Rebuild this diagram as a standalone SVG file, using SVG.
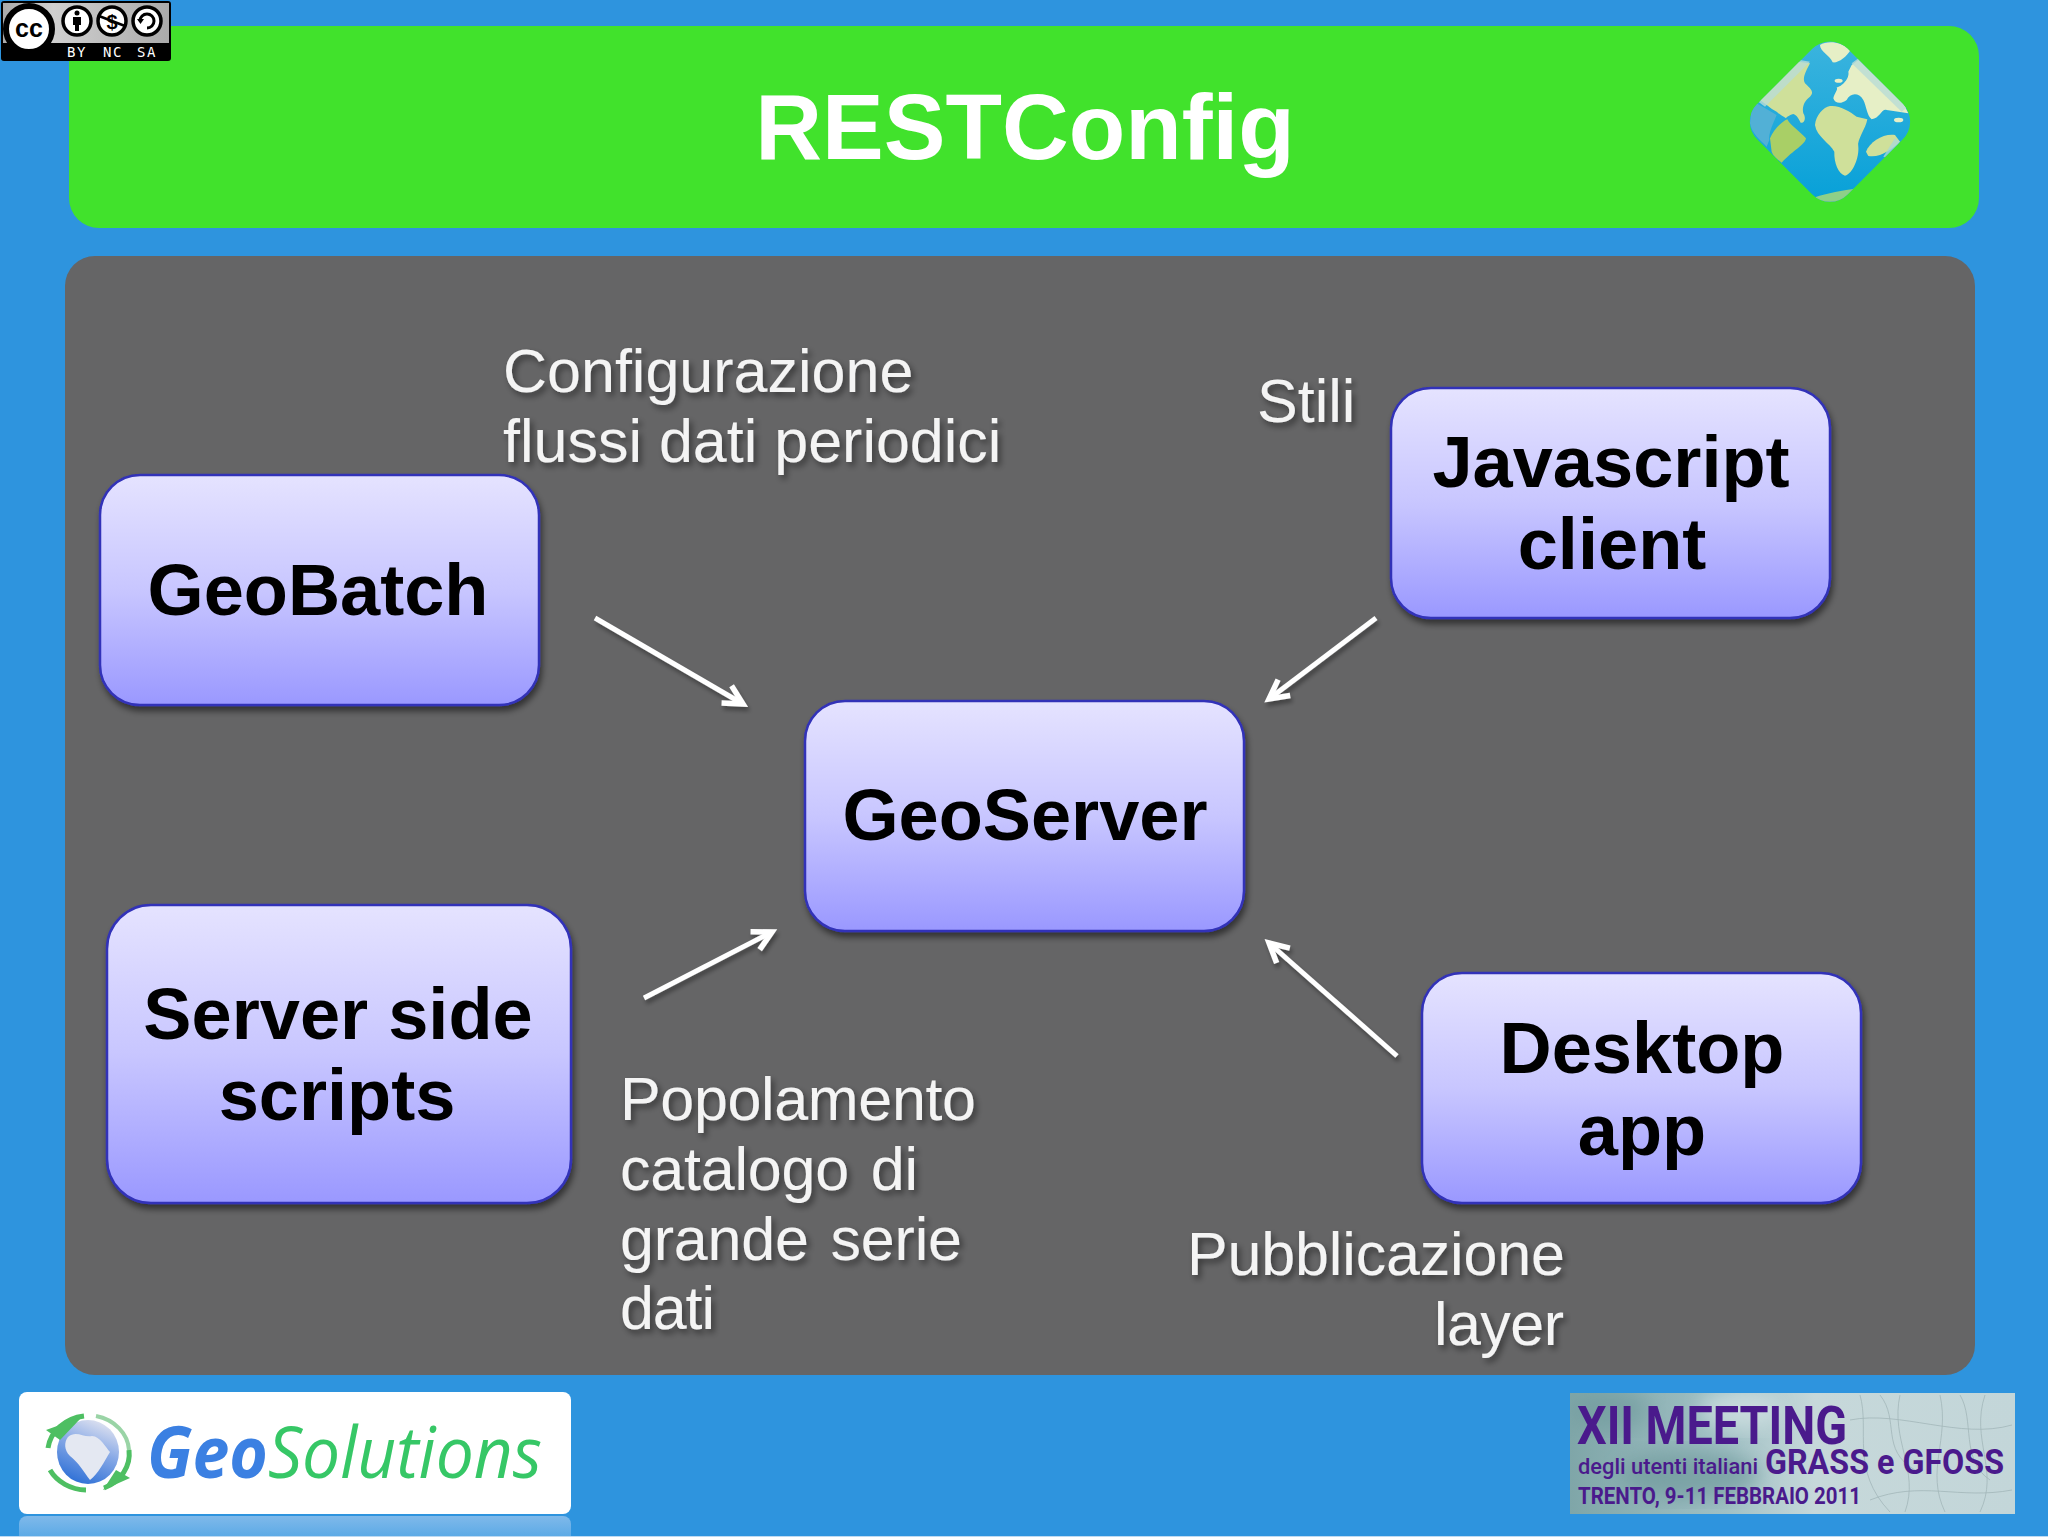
<svg xmlns="http://www.w3.org/2000/svg" width="2048" height="1537" viewBox="0 0 2048 1537">
<style>
.node{stroke:#3030b8;stroke-width:2.5;fill:url(#nodeFill);filter:url(#boxShadow)}
.nt{font:bold 72.200px "Liberation Sans",Arial,sans-serif;fill:#000;text-anchor:middle}
.lb{font:61px "Liberation Sans",Arial,sans-serif;fill:#f4f4f4;filter:url(#textShadow)}
.arrow{fill:none;stroke:#fff;stroke-width:5;marker-end:url(#head);filter:url(#arrowShadow)}
.land{fill:#cfe09a}
.pale{fill:#e6efc6}
.cct{font:14px "DejaVu Sans Mono",monospace;fill:#fff;text-anchor:middle;letter-spacing:1.500px}
.ccg{font:bold 25px "Liberation Sans",Arial,sans-serif;fill:#000;text-anchor:middle}
.ccr{fill:#fff;stroke:#000;stroke-width:3.5}
.mt{font-family:"Roboto","Liberation Sans",sans-serif;font-weight:700;fill:#4a1a8c}
</style>
<defs>
<linearGradient id="nodeFill" x1="0" y1="0" x2="0" y2="1"><stop offset="0" stop-color="#e5e3ff"/><stop offset="0.5" stop-color="#c8c6ff"/><stop offset="1" stop-color="#9a98ff"/></linearGradient>
<linearGradient id="ccBg" x1="0" y1="0" x2="1" y2="0"><stop offset="0" stop-color="#aaa"/><stop offset="0.3" stop-color="#d0d0d0"/><stop offset="1" stop-color="#aaa"/></linearGradient>
<linearGradient id="reflect" x1="0" y1="0" x2="0" y2="1"><stop offset="0" stop-color="#7fb9ea"/><stop offset="1" stop-color="#4ca3e4"/></linearGradient>
<linearGradient id="meetBg" x1="0" y1="0" x2="1" y2="0"><stop offset="0" stop-color="#7fa6a8"/><stop offset="0.35" stop-color="#a0c0c4"/><stop offset="0.55" stop-color="#c6d8da"/><stop offset="1" stop-color="#c3d6d9"/></linearGradient>
<linearGradient id="sea" x1="0" y1="0" x2="0" y2="1"><stop offset="0" stop-color="#3cb4de"/><stop offset="1" stop-color="#06a0d8"/></linearGradient>
<linearGradient id="logoGlobe" x1="0.7" y1="0" x2="0.3" y2="1"><stop offset="0" stop-color="#dfe2f0"/><stop offset="0.45" stop-color="#86a8e6"/><stop offset="1" stop-color="#2c6fd6"/></linearGradient>
<filter id="boxShadow" x="-10%" y="-10%" width="120%" height="125%"><feDropShadow dx="2" dy="5" stdDeviation="3" flood-color="#000" flood-opacity="0.5"/></filter>
<filter id="textShadow" x="-5%" y="-15%" width="110%" height="140%"><feDropShadow dx="3" dy="4" stdDeviation="3" flood-color="#000" flood-opacity="0.45"/></filter>
<filter id="arrowShadow" x="-20%" y="-20%" width="140%" height="140%"><feDropShadow dx="2" dy="4" stdDeviation="2" flood-color="#000" flood-opacity="0.35"/></filter>
<filter id="soft" x="-20%" y="-20%" width="140%" height="140%"><feGaussianBlur stdDeviation="10"/></filter>
<marker id="head" markerUnits="userSpaceOnUse" markerWidth="34" markerHeight="34" refX="24" refY="15" orient="auto"><path d="M5 5 L24 15 L5 25" fill="none" stroke="#fff" stroke-width="5.5"/></marker>
<clipPath id="globeClip"><rect x="-192" y="-192" width="384" height="384" rx="75" transform="translate(540 365) rotate(45)"/></clipPath>
<clipPath id="meetClip"><rect x="1570" y="1393" width="445" height="121"/></clipPath>
</defs>

<rect id="background" width="2048" height="1537" fill="#2e94de"/>
<rect id="title-bar" x="69" y="26" width="1910" height="202" rx="30" fill="#41e22c"/>
<text x="1025" y="159" style="font:bold 92.500px 'Liberation Sans',Arial,sans-serif;fill:#fff;text-anchor:middle">RESTConfig</text>
<rect id="panel" x="65" y="256" width="1910" height="1119" rx="30" fill="#656566"/>

<g id="globe" transform="translate(1650 0) scale(0.3333)">
<g clip-path="url(#globeClip)">
<rect x="290" y="115" width="500" height="500" fill="url(#sea)"/>
<path d="M305 320 L320 310 L380 345 C370 370 355 400 358 420 L350 440 C330 420 305 400 300 370Z" fill="#52b0d6"/>
<path class="land" d="M330 300 L445 185 L480 190 C470 210 455 235 465 250 C480 265 495 275 480 290 C465 300 455 320 460 340 C470 355 462 372 452 368 C445 355 440 345 430 342 C420 345 410 350 408 355 C400 350 385 340 380 335 C360 325 345 310 330 300Z"/>
<path d="M360 415 C370 390 395 365 412 358 C420 375 450 395 468 415 C465 435 430 450 395 488 C385 480 370 470 365 455Z" fill="#a9cf66"/>
<path class="land" d="M540 318 C570 315 600 335 620 350 L652 358 C648 385 620 420 625 440 C628 470 610 520 585 527 C565 520 552 490 553 455 C540 430 500 410 495 375 C498 345 520 322 540 318Z"/>
<path class="pale" d="M605 195 L625 180 L760 310 L775 340 L710 330 C695 325 690 355 665 358 C650 345 650 320 640 300 C625 275 600 280 590 300 C575 312 555 312 550 295 C553 280 565 270 560 262 C575 260 600 235 595 215Z"/>
<path class="pale" d="M510 135 C530 122 570 122 602 150 C590 170 565 190 548 187 C540 165 510 155 510 135Z"/>
<ellipse class="pale" cx="566" cy="242" rx="12" ry="6"/>
<ellipse class="pale" cx="746" cy="360" rx="14" ry="7"/>
<path class="land" d="M648 455 C660 425 700 400 735 405 L750 425 C730 445 690 475 655 468Z"/>
<path d="M495 592 C530 580 580 572 620 565 L570 610 L510 610Z" fill="#8fcf88"/>
<path d="M325 305 L450 180 L480 185 L345 320Z" fill="#b9dcd6" opacity="0.8"/>
<path d="M625 175 L775 320 L755 335 L605 190Z" fill="#b9dcd6" opacity="0.8"/>
<path d="M700 470 L735 415 L750 425 L715 475Z" fill="#a9d8d4" opacity="0.8"/>
</g>
</g>

<g id="connectors">
<line class="arrow" x1="595" y1="618" x2="743" y2="704"/>
<line class="arrow" x1="1376" y1="618" x2="1269" y2="699"/>
<line class="arrow" x1="644" y1="998" x2="772" y2="932"/>
<line class="arrow" x1="1397" y1="1056" x2="1269" y2="943"/>
</g>

<g id="node-geobatch"><rect class="node" x="100" y="475" width="439" height="230" rx="40"/><text class="nt" x="318" y="615">GeoBatch</text></g>
<g id="node-javascript"><rect class="node" x="1391" y="388" width="439" height="230" rx="40"/><text class="nt" x="1611" y="487">Javascript</text><text class="nt" x="1612" y="569">client</text></g>
<g id="node-geoserver"><rect class="node" x="805" y="701" width="439" height="230" rx="40"/><text class="nt" x="1025" y="840">GeoServer</text></g>
<g id="node-scripts"><rect class="node" x="107" y="905" width="464" height="298" rx="44"/><text class="nt" x="338" y="1039">Server side</text><text class="nt" x="337" y="1120">scripts</text></g>
<g id="node-desktop"><rect class="node" x="1422" y="973" width="439" height="230" rx="40"/><text class="nt" x="1642" y="1073">Desktop</text><text class="nt" x="1642" y="1155">app</text></g>

<g id="labels">
<text class="lb" x="503" y="392">Configurazione</text>
<text class="lb" x="503" y="462">flussi dati periodici</text>
<text class="lb" x="1257" y="422">Stili</text>
<text class="lb" x="620" y="1120" textLength="356">Popolamento</text>
<text class="lb" x="620" y="1190" textLength="298" style="word-spacing:5px">catalogo di</text>
<text class="lb" x="620" y="1260" textLength="342" style="word-spacing:5px">grande serie</text>
<text class="lb" x="620" y="1329" textLength="95">dati</text>
<text class="lb" x="1187" y="1275" textLength="378">Pubblicazione</text>
<text class="lb" x="1434" y="1345" textLength="130">layer</text>
</g>

<g id="cc-badge">
<rect x="1" y="1" width="170" height="60" rx="3" fill="#000"/>
<rect x="3" y="3" width="166" height="40" fill="url(#ccBg)"/>
<circle cx="29" cy="29" r="23" class="ccr" style="stroke-width:6"/>
<text class="ccg" x="29" y="37">cc</text>
<circle class="ccr" cx="77" cy="21" r="14"/>
<circle cx="77" cy="13" r="2.5"/><path d="M73 17 h8 v8 h-2 v6 h-4 v-6 h-2z"/>
<circle class="ccr" cx="112" cy="21" r="14"/>
<text class="ccg" x="112" y="29" style="font-size:20px">$</text>
<path d="M99 16 L125 26" stroke="#000" stroke-width="2.5"/>
<circle class="ccr" cx="147" cy="21" r="14"/>
<path d="M140 21 a7 7 0 1 1 7 7" fill="none" stroke="#000" stroke-width="3"/>
<path d="M137 19 h7 l-3.500 5z"/>
<text class="cct" x="77" y="56.500">BY</text>
<text class="cct" x="113" y="56.500">NC</text>
<text class="cct" x="147" y="56.500">SA</text>
</g>

<g id="geosolutions-logo">
<rect x="19" y="1516" width="552" height="30" rx="8" fill="url(#reflect)"/>
<rect x="19" y="1392" width="552" height="122" rx="8" fill="#fff"/>
<ellipse cx="88" cy="1452" rx="31" ry="32" fill="url(#logoGlobe)"/>
<path d="M68 1437 C76 1430 84 1438 92 1436 C100 1436 106 1448 110 1452 C104 1462 98 1474 90 1480 C84 1472 78 1462 70 1456 C64 1450 64 1442 68 1437Z" fill="#e4e8f2"/>
<path d="M48 1448 A42 37 0 0 1 84 1416" fill="none" stroke="#4ebf62" stroke-width="5"/>
<path d="M46 1430 L82 1417 L60 1440Z" fill="#4ebf62"/>
<path d="M50 1470 A42 37 0 0 0 86 1490" fill="none" stroke="#4ebf62" stroke-width="5"/>
<path d="M96 1416 A42 37 0 0 1 129 1450" fill="none" stroke="#9ad4a6" stroke-width="4"/>
<path d="M129 1450 A42 37 0 0 1 104 1488" fill="none" stroke="#4ebf62" stroke-width="5"/>
<path d="M130 1478 L103 1490 L116 1470Z" fill="#4ebf62"/>
<text x="147" y="1478" textLength="121" lengthAdjust="spacingAndGlyphs" style="font:italic 700 72px 'Open Sans',sans-serif;fill:#3b80e2">Geo</text>
<text x="268" y="1478" textLength="274" lengthAdjust="spacingAndGlyphs" style="font:italic 400 72px 'Open Sans',sans-serif;fill:#36c766">Solutions</text>
</g>

<g id="meeting-logo">
<rect x="1570" y="1393" width="445" height="121" fill="url(#meetBg)"/>
<g clip-path="url(#meetClip)">
<ellipse cx="1690" cy="1475" rx="70" ry="24" fill="#6f9a9c" filter="url(#soft)" opacity="0.7"/>
<ellipse cx="1610" cy="1410" rx="40" ry="20" fill="#6f9a9c" filter="url(#soft)" opacity="0.6"/>
<ellipse cx="1740" cy="1410" rx="40" ry="20" fill="#d6e4e6" filter="url(#soft)" opacity="0.7"/>
<g fill="none" stroke="#a3b6b9" stroke-width="1" opacity="0.8">
<path d="M1860 1395 C1870 1430 1850 1470 1890 1512 M1900 1395 C1890 1440 1920 1470 1905 1512 M1940 1395 C1950 1440 1925 1470 1945 1512 M1985 1395 C1970 1440 2000 1470 1980 1512 M1850 1420 C1900 1410 1960 1440 2012 1425 M1870 1500 C1920 1480 1960 1500 2012 1490 M1880 1395 C1900 1420 1880 1450 1915 1470 M1960 1395 C1975 1420 1960 1460 1990 1480"/>
</g>
</g>
<text class="mt" x="1577" y="1444" font-size="53" textLength="270" lengthAdjust="spacingAndGlyphs">XII MEETING</text>
<text class="mt" x="1578" y="1474" font-size="22" textLength="180" lengthAdjust="spacingAndGlyphs" style="font-weight:500">degli utenti italiani</text>
<text class="mt" x="1765" y="1474" font-size="35" textLength="239" lengthAdjust="spacingAndGlyphs">GRASS e GFOSS</text>
<text class="mt" x="1578" y="1504" font-size="23" textLength="283" lengthAdjust="spacingAndGlyphs">TRENTO, 9-11 FEBBRAIO 2011</text>
</g>
<rect id="bottom-edge" x="0" y="1536" width="2048" height="1" fill="#bcd9f2"/>
</svg>
